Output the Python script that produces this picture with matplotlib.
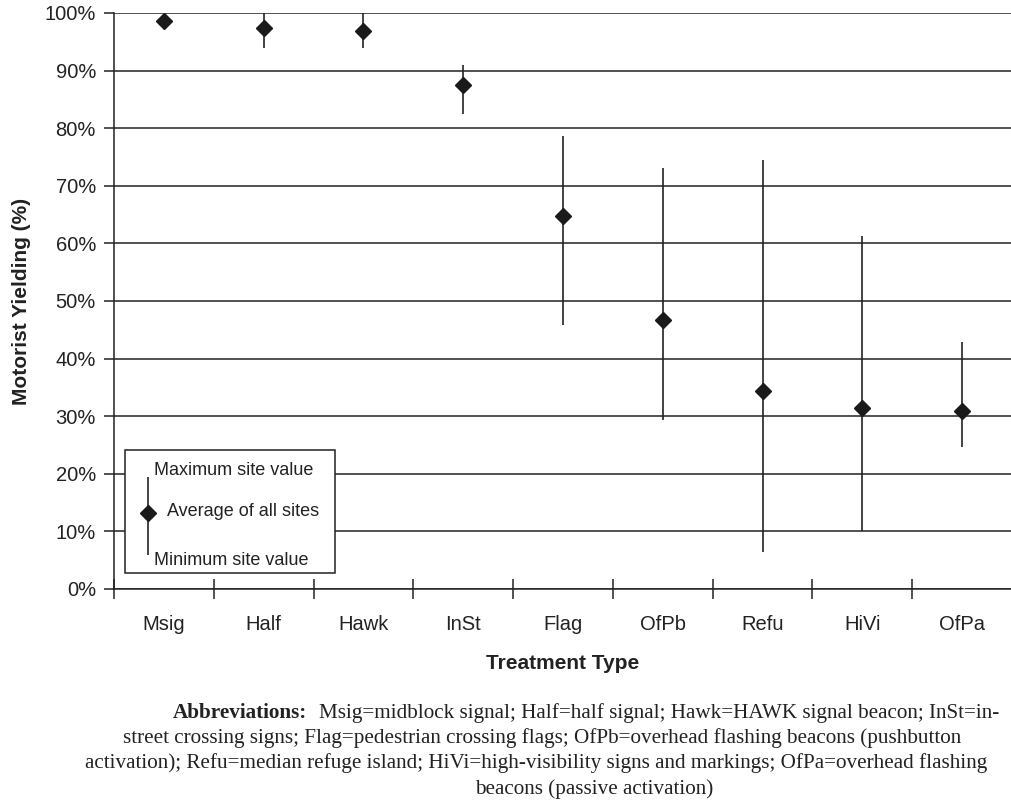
import matplotlib
matplotlib.use("Agg")
import matplotlib.pyplot as plt
from matplotlib.patches import Rectangle

# treatment types and yielding values (%)
treatments = ["Msig", "Half", "Hawk", "InSt", "Flag", "OfPb", "Refu", "HiVi", "OfPa"]
avg_yield = [98.6, 97.4, 96.9, 87.5, 64.8, 46.7, 34.3, 31.5, 30.9]
max_yield = [99.4, 100.0, 100.0, 91.0, 78.7, 73.1, 74.5, 61.2, 42.8]
min_yield = [97.8, 93.9, 93.9, 82.5, 45.8, 29.3, 6.5, 10.1, 24.6]

yticks = list(range(0, 101, 10))

abbrev_lines = [
    "Msig=midblock signal; Half=half signal; Hawk=HAWK signal beacon; InSt=in-",
    "street crossing signs; Flag=pedestrian crossing flags; OfPb=overhead flashing beacons (pushbutton",
    "activation); Refu=median refuge island; HiVi=high-visibility signs and markings; OfPa=overhead flashing",
    "beacons (passive activation)",
]

plt.rcParams['font.family'] = ['Liberation Sans', 'DejaVu Sans']
ink = "#222222"

fig = plt.figure(figsize=(10.12, 8.09), dpi=100)
ax = fig.add_axes([114 / 1012, 1 - 589 / 809, 1 - 114 / 1012, (589 - 13) / 809])

xs = [i + 0.5 for i in range(len(treatments))]

for y in yticks:
    ax.axhline(y, color=ink, lw=1.1, zorder=1)

ax.vlines(xs, min_yield, max_yield, color=ink, lw=1.2, zorder=3)
ax.plot(xs, avg_yield, linestyle="none", marker="D", ms=7.8, color="#1a1a1a", zorder=4)

ax.set_xlim(0, len(treatments))
ax.set_ylim(0, 100)
ax.set_yticks(yticks)
ax.set_yticklabels([f"{y}%" for y in yticks])
ax.set_xticks(range(len(treatments) + 1))
ax.set_xticklabels([])
ax.set_xticks(xs, minor=True)
ax.set_xticklabels(treatments, minor=True)
ax.tick_params(axis="x", which="major", direction="inout", length=14, width=1.1, color=ink)
ax.tick_params(axis="x", which="minor", length=0, pad=19, labelsize=14.5, labelcolor=ink)
ax.tick_params(axis="y", direction="out", length=7, width=1.1, color=ink, labelsize=14.5,
               labelcolor=ink, pad=6)

for s in ["top", "right"]:
    ax.spines[s].set_visible(False)
for s in ["left", "bottom"]:
    ax.spines[s].set_color(ink)
    ax.spines[s].set_linewidth(1.1)

ax.set_xlabel("Treatment Type", fontsize=15, fontweight="bold", color=ink, labelpad=14)
ax.set_ylabel("Motorist Yielding (%)", fontsize=15, fontweight="bold", color=ink, labelpad=10)

# key box
ax.add_patch(Rectangle((0.11, 2.8), 2.1, 21.3, facecolor="white", edgecolor=ink, lw=1.1, zorder=5))
ax.vlines(0.34, 5.9, 19.4, color=ink, lw=1.2, zorder=6)
ax.plot(0.34, 13.2, marker="D", ms=7.8, color="#1a1a1a", zorder=7)
ax.text(0.40, 20.6, "Maximum site value", fontsize=13, color=ink, va="center", zorder=7)
ax.text(0.53, 13.5, "Average of all sites", fontsize=13, color=ink, va="center", zorder=7)
ax.text(0.40, 5.0, "Minimum site value", fontsize=13, color=ink, va="center", zorder=7)

# abbreviations note
serif = ['Liberation Serif', 'DejaVu Serif']
fs = 15.2
fig.text(173 / 1012, 1 - 713 / 809, "Abbreviations:", family=serif, fontsize=fs,
         fontweight="bold", color=ink, va="center")
fig.text(319 / 1012, 1 - 713 / 809, abbrev_lines[0], family=serif, fontsize=fs, color=ink, va="center")
fig.text(123 / 1012, 1 - 738 / 809, abbrev_lines[1], family=serif, fontsize=fs, color=ink, va="center")
fig.text(85 / 1012, 1 - 763 / 809, abbrev_lines[2], family=serif, fontsize=fs, color=ink, va="center")
fig.text(475 / 1012, 1 - 789 / 809, abbrev_lines[3], family=serif, fontsize=fs, color=ink, va="center")

fig.savefig("out.png", dpi=100)
